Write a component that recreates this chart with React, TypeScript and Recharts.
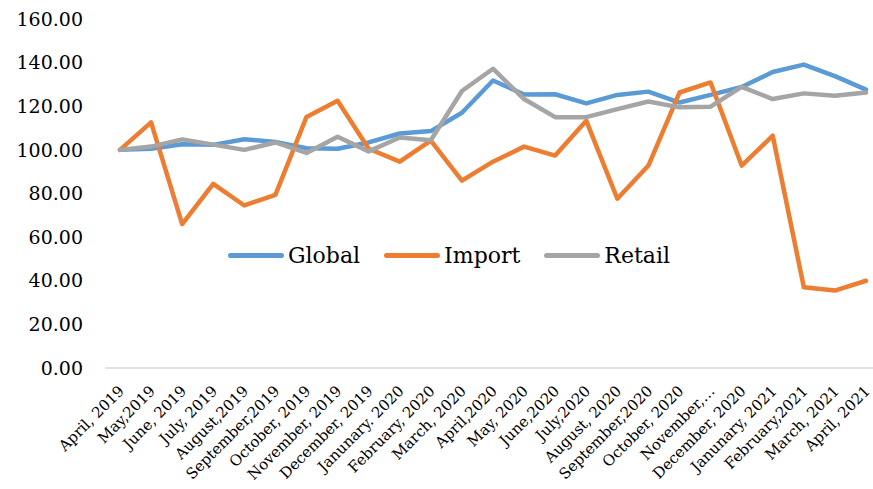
import React from "react";
import { CartesianGrid, Line, LineChart, XAxis, YAxis } from "recharts";

const months = [
  "April, 2019",
  "May,2019",
  "June, 2019",
  "July, 2019",
  "August,2019",
  "September,2019",
  "October, 2019",
  "November, 2019",
  "December, 2019",
  "Janunary. 2020",
  "February, 2020",
  "March, 2020",
  "April,2020",
  "May, 2020",
  "June,2020",
  "July,2020",
  "August, 2020",
  "September,2020",
  "October, 2020",
  "November,…",
  "December, 2020",
  "Janunary, 2021",
  "February,2021",
  "March, 2021",
  "April, 2021",
];

const globalIdx = [
  100, 100.5, 102.6, 102.3, 104.9, 103.6, 100.8, 100.5, 103.4, 107.5, 108.6, 117, 131.8,
  125.4, 125.5, 121.3, 125.2, 126.7, 121.7, 125.2, 128.8, 135.7, 139.1, 133.8, 127.6,
];
const importIdx = [
  100, 112.6, 66, 84.4, 74.5, 79.4, 115.1, 122.5, 100.5, 94.6, 104.2, 85.9, 94.6, 101.5,
  97.4, 113.4, 77.6, 92.8, 126.3, 130.9, 92.8, 106.5, 37, 35.5, 40,
];
const retailIdx = [
  100, 101.5, 104.8, 102.4, 100, 103.4, 98.6, 106, 99.3, 105.7, 104.4, 127, 137.2, 123.3,
  115, 115, 118.7, 122.2, 119.5, 119.8, 128.9, 123.3, 125.9, 124.8, 126.3,
];
const yTicks = [0, 20, 40, 60, 80, 100, 120, 140, 160];

const series = [
  { key: "Global", color: "#5B9BD5", values: globalIdx },
  { key: "Import", color: "#ED7D31", values: importIdx },
  { key: "Retail", color: "#A5A5A5", values: retailIdx },
];

const data = months.map((month, i) => ({
  month,
  Global: globalIdx[i],
  Import: importIdx[i],
  Retail: retailIdx[i],
}));

const FONT = "'DejaVu Serif', Georgia, serif";

function MonthTick({ x, y, payload }: any) {
  const px = x + 5;
  const py = y + 22;
  return (
    <text
      x={px}
      y={py}
      textAnchor="end"
      fontSize={15}
      fontFamily={FONT}
      fill="#000"
      transform={`rotate(-45, ${px}, ${py})`}
    >
      {payload.value}
    </text>
  );
}

function ChartLegend() {
  return (
    <div
      style={{
        position: "absolute",
        left: 228,
        top: 243,
        display: "flex",
        alignItems: "center",
        fontFamily: FONT,
        fontSize: 22,
        color: "#000",
        pointerEvents: "none",
      }}
    >
      {series.map((s) => (
        <div key={s.key} style={{ display: "flex", alignItems: "center", marginRight: 24 }}>
          <span
            style={{
              display: "inline-block",
              width: 56,
              height: 5,
              borderRadius: 3,
              background: s.color,
              marginRight: 4,
            }}
          />
          <span>{s.key}</span>
        </div>
      ))}
    </div>
  );
}

export default function App() {
  return (
    <div style={{ position: "absolute", left: 0, top: 0, width: 873, height: 489, background: "#fff" }}>
      <LineChart width={873} height={489} data={data} margin={{ top: 19, right: 0, bottom: 0, left: 0 }}>
        <CartesianGrid horizontal={false} vertical={false} />
        <XAxis
          dataKey="month"
          interval={0}
          height={121}
          tick={<MonthTick />}
          tickLine={false}
          tickSize={0}
          axisLine={{ stroke: "#D9D9D9", strokeWidth: 1.5 }}
          padding={{ left: 15, right: 7 }}
        />
        <YAxis
          domain={[0, 160]}
          ticks={yTicks}
          width={105}
          axisLine={false}
          tickLine={false}
          tickMargin={16}
          tickFormatter={(v: number) => v.toFixed(2)}
          tick={{ fontSize: 19, fontFamily: FONT, fill: "#000" }}
        />
        {series.map((s) => (
          <Line
            key={s.key}
            type="linear"
            dataKey={s.key}
            stroke={s.color}
            strokeWidth={4.5}
            strokeLinejoin="round"
            strokeLinecap="round"
            dot={false}
            activeDot={false}
            isAnimationActive={false}
          />
        ))}
      </LineChart>
      <ChartLegend />
    </div>
  );
}
